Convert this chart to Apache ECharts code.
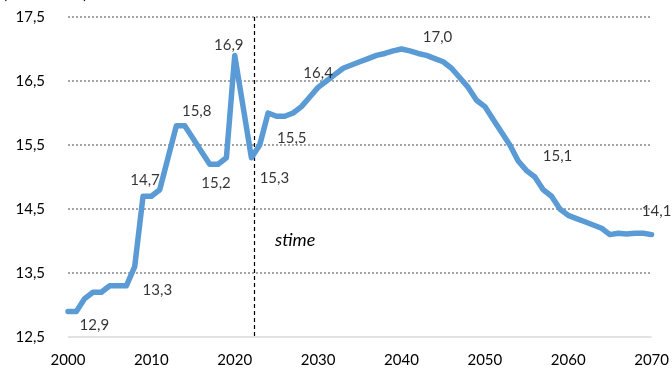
<!DOCTYPE html>
<html>
<head>
<meta charset="utf-8">
<script src="https://cdn.jsdelivr.net/npm/echarts@6/dist/echarts.min.js"></script>
<style>
html,body{margin:0;padding:0;background:#fff;}
#chart{width:672px;height:370px;}
</style>
</head>
<body>
<div id="chart"></div>
<script>
const years = [2000,2001,2002,2003,2004,2005,2006,2007,2008,2009,
  2010,2011,2012,2013,2014,2015,2016,2017,2018,2019,
  2020,2021,2022,2023,2024,2025,2026,2027,2028,2029,
  2030,2031,2032,2033,2034,2035,2036,2037,2038,2039,
  2040,2041,2042,2043,2044,2045,2046,2047,2048,2049,
  2050,2051,2052,2053,2054,2055,2056,2057,2058,2059,
  2060,2061,2062,2063,2064,2065,2066,2067,2068,2069,2070];
const values = [12.9,12.9,13.1,13.2,13.2,13.3,13.3,13.3,13.6,14.7,
  14.7,14.8,15.3,15.8,15.8,15.6,15.4,15.2,15.2,15.3,
  16.9,16.1,15.3,15.5,16.0,15.95,15.95,16.0,16.1,16.25,
  16.4,16.5,16.6,16.7,16.75,16.8,16.85,16.9,16.93,16.97,
  17.0,16.97,16.93,16.9,16.85,16.8,16.7,16.55,16.4,16.2,
  16.1,15.9,15.7,15.5,15.25,15.1,15.0,14.8,14.7,14.5,
  14.4,14.35,14.3,14.25,14.2,14.1,14.12,14.11,14.12,14.12,14.1];
const labelYears = [2001,2007,2009,2014,2018,2020,2022,2023,2030,2040,2055,2070];
const labelTexts = ['12,9','13,3','14,7','15,8','15,2','16,9','15,3','15,5','16,4','17,0','15,1','14,1'];
const yTicks = [12.5,13.5,14.5,15.5,16.5,17.5];
const forecastStart = 2022.3;
const forecastText = 'stime';

// label offsets (style only)
const labelOffsets = {
  2001:[18,14], 2007:[31,4], 2009:[2,-16], 2014:[12,-15], 2018:[-2,19],
  2020:[-6,-10], 2022:[23,20], 2023:[32,-7], 2030:[0,-14], 2040:[36,-12],
  2055:[31,-14], 2070:[5,-23]
};

const FONT = 'Lato, "Noto Sans", sans-serif';
const lineData = years.map((y,i)=>[y, values[i]]);
const labelData = labelYears.map((y,i)=>({
  value:[y, values[years.indexOf(y)]],
  label:{formatter: labelTexts[i], offset: labelOffsets[y]}
}));

const xMin = years[0], xMax = years[years.length-1];
const markLines = yTicks.map(v=>{
  const isBase = v === yTicks[0];
  return [
    {xAxis:xMin, yAxis:v, lineStyle: isBase ? {type:'solid', color:'#d9d9d9', width:1.5} : {type:[2,2], color:'#a6a6a6', width:2}},
    {xAxis:xMax, yAxis:v}
  ];
});
markLines.push([
  {xAxis:forecastStart, yAxis:17.5, lineStyle:{color:'#000', type:[4,3], width:1.2}},
  {xAxis:forecastStart, yAxis:12.5}
]);

const chart = echarts.init(document.getElementById('chart'), null, {renderer:'canvas'});
chart.setOption({
  animation:false,
  grid:{left:68, right:20, top:17, bottom:33},
  xAxis:{
    type:'value', min:2000, max:2070, interval:10,
    axisLine:{show:false}, axisTick:{show:false}, splitLine:{show:false},
    axisLabel:{color:'#000', fontFamily:FONT, fontSize:15, margin:16, formatter:v=>String(v)}
  },
  yAxis:{
    type:'value', min:12.5, max:17.5, interval:0.5,
    axisLine:{show:false}, axisTick:{show:false}, splitLine:{show:false},
    axisLabel:{color:'#000', fontFamily:FONT, fontSize:15, margin:23,
      formatter:v=> (Math.abs(v % 1 - 0.5) < 1e-6) ? v.toFixed(1).replace('.', ',') : ''}
  },
  graphic:[
    {type:'text', left:275, top:231, style:{text:forecastText, font:'italic 18px Lato', fill:'#000'}},
    {type:'text', left:3, top:-13, style:{text:'(in % del PIL)', font:'15px Lato', fill:'#000'}}
  ],
  series:[
    {
      type:'line', data:lineData, showSymbol:false, symbol:'none', clip:false,
      lineStyle:{color:'#5b9bd5', width:5.5, cap:'round', join:'round'},
      z:3,
      markLine:{silent:true, symbol:'none', label:{show:false}, animation:false, z:1,
        data:markLines}
    },
    {
      type:'scatter', data:labelData, symbolSize:0, silent:true, z:4,
      label:{show:true, position:'inside', color:'#000', fontFamily:FONT, fontSize:15}
    }
  ]
});
</script>
</body>
</html>
